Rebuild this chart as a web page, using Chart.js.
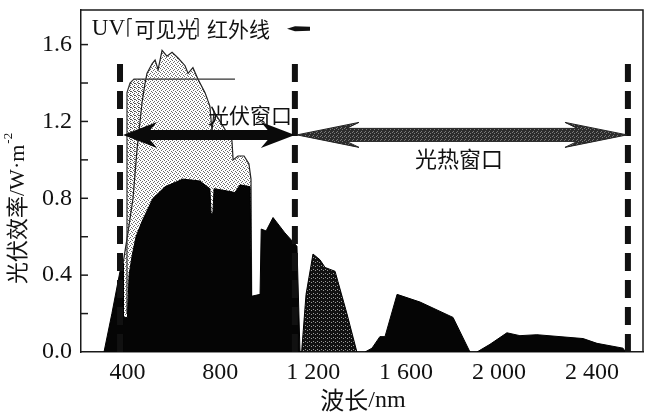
<!DOCTYPE html>
<html><head><meta charset="utf-8">
<script src="https://cdn.jsdelivr.net/npm/chart.js@4.4.1/dist/chart.umd.min.js"></script>
<style>html,body{margin:0;padding:0;background:#fff;overflow:hidden}</style>
</head><body>
<canvas id="c" width="652" height="416"></canvas>
<script>
// ---------- data (wavelength nm, value W·m^-2) ----------
const spectrumNm  = [308,346,381,402,424,441,463,476,484,506,519,532,549,570,592,618,648,661,682,704,734,755,764,773,799,824,850,855,876,902,923,932,936];
const spectrumVal = [0,0.2,0.46,0.62,0.80,1.05,1.30,1.40,1.45,1.50,1.52,1.47,1.57,1.54,1.56,1.53,1.49,1.45,1.48,1.42,1.35,1.28,1.15,1.25,1.20,1.15,1.10,1.0,1.02,1.02,0.98,0.90,0];
const blockNm  = [398,398,411,428,704,704];
const blockVal = [0,1.35,1.40,1.42,1.42,0];
const refLineNm  = [398,398,411,428,863];
const refLineVal = [0.2,1.35,1.40,1.42,1.42];
const pvNm  = [299,333,368,381,383,400,404,407,420,437,463,510,562,639,712,755,760,768,773,820,863,885,928,934,971,976,997,1027,1078,1130,1143];
const pvVal = [0,0.2,0.42,0.46,0.18,0.18,0.30,0.40,0.50,0.60,0.68,0.80,0.86,0.90,0.89,0.85,0.72,0.72,0.85,0.84,0.83,0.87,0.86,0.29,0.30,0.64,0.63,0.70,0.62,0.55,0];
const lobe2Nm  = [1150,1169,1199,1229,1251,1294,1345,1388];
const lobe2Val = [0,0.30,0.51,0.48,0.44,0.42,0.20,0];
const lobe3Nm  = [1423,1453,1487,1509,1561,1660,1802,1875];
const lobe3Val = [0,0.02,0.08,0.08,0.30,0.26,0.18,0];
const lobe4Nm  = [1905,1961,2034,2090,2163,2362,2422,2534,2545];
const lobe4Val = [0,0.04,0.10,0.085,0.09,0.07,0.045,0.02,0];
const windowEdgesNm = [368,1121,2555];
const windowTop = 1.53;
const pvWindow = [381,1121];
const thermalWindow = [1130,2551];
const arrowLevel = 1.13;
const xTickValues = [400,800,1200,1600,2000,2400];
const xTickLabels = ["400","800","1 200","1 600","2 000","2 400"];
const yTickValues = [0,0.4,0.8,1.2,1.6];
const yTickLabels = ["0.0","0.4","0.8","1.2","1.6"];
const yMinorTicks = [0.2,0.4,0.6,0.8,1.0,1.2,1.4,1.6];
const bandLabels = ["UV","可见光","红外线"];
const bandLabelNm = [318,566,878];
const bandEdgesNm = [402,704];
const bandLevel = 1.683;
const pvLabel = {text:"光伏窗口", nm:928, v:1.236};
const thermalLabel = {text:"光热窗口", nm:1828, v:1.008};

// ---------- helpers ----------
const pts = (xs,ys)=>xs.map((x,i)=>({x, y:ys[i]}));
function pattern(bg, dot, dots, size){
  const c=document.createElement('canvas'); c.width=size; c.height=size;
  const g=c.getContext('2d'); g.fillStyle=bg; g.fillRect(0,0,size,size);
  g.fillStyle=dot; dots.forEach(d=>g.fillRect(d[0],d[1],1,1));
  return g.createPattern(c,'repeat');
}
const lightStipple = pattern('#ffffff','#6a6a6a',[[0,0],[2,1],[1,2],[3,3]],4);
const blockStipple = pattern('#ffffff','#555555',[[0,0],[2,1],[1,2],[3,3],[2,3]],4);
const darkStipple  = pattern('#111111','#9a9a9a',[[1,1],[3,2]],4);
const arrowStipple = pattern('#2c2c2c','#7a7a7a',[[0,0],[2,1],[1,3]],4);
const SERIF="'Liberation Serif', 'DejaVu Serif', serif";
const CJK="'Noto Sans CJK SC', sans-serif";

const dashed = [];
windowEdgesNm.forEach(n=>{ dashed.push({x:n,y:0},{x:n,y:windowTop},{x:n,y:NaN}); });

const lineBase = {pointRadius:0, tension:0, borderJoinStyle:'miter'};

const deco = {
  id:'deco',
  afterDatasetsDraw(chart){
    const {ctx, chartArea:a, scales:{x,y}} = chart;
    ctx.save();
    // frame top and right
    ctx.strokeStyle='#1a1a1a'; ctx.lineWidth=1.5;
    ctx.beginPath(); ctx.moveTo(a.left,a.top); ctx.lineTo(a.right,a.top); ctx.lineTo(a.right,a.bottom); ctx.stroke();
    // inward y ticks
    ctx.lineWidth=1.5;
    yMinorTicks.forEach(v=>{const py=y.getPixelForValue(v); ctx.beginPath(); ctx.moveTo(a.left,py); ctx.lineTo(a.left+7,py); ctx.stroke();});
    // arrows
    function dbl(x1,x2,yc,shaft,hl,hh,fill){
      ctx.beginPath();
      ctx.moveTo(x1,yc); ctx.lineTo(x1+hl,yc-hh/2); ctx.lineTo(x1+hl*0.8,yc-shaft/2);
      ctx.lineTo(x2-hl*0.8,yc-shaft/2); ctx.lineTo(x2-hl,yc-hh/2); ctx.lineTo(x2,yc);
      ctx.lineTo(x2-hl,yc+hh/2); ctx.lineTo(x2-hl*0.8,yc+shaft/2);
      ctx.lineTo(x1+hl*0.8,yc+shaft/2); ctx.lineTo(x1+hl,yc+hh/2); ctx.closePath();
      ctx.fillStyle=fill; ctx.fill();
    }
    const ay=y.getPixelForValue(arrowLevel);
    dbl(x.getPixelForValue(thermalWindow[0]), x.getPixelForValue(thermalWindow[1]), ay, 13, 62, 25, arrowStipple);
    ctx.strokeStyle='#222'; ctx.lineWidth=1; ctx.stroke();
    dbl(x.getPixelForValue(pvWindow[0]), x.getPixelForValue(pvWindow[1]), ay, 10, 34, 26, '#0a0a0a');
    // window labels
    ctx.fillStyle='#111'; ctx.textAlign='center'; ctx.textBaseline='middle';
    ctx.font="21px "+CJK;
    ctx.fillText(pvLabel.text, x.getPixelForValue(pvLabel.nm), y.getPixelForValue(pvLabel.v));
    ctx.font="22px "+CJK;
    ctx.fillText(thermalLabel.text, x.getPixelForValue(thermalLabel.nm), y.getPixelForValue(thermalLabel.v));
    // band labels
    const by=y.getPixelForValue(bandLevel);
    bandLabels.forEach((t,i)=>{
      ctx.font = (i===0? "23px "+SERIF : "21px "+CJK);
      ctx.fillText(t, x.getPixelForValue(bandLabelNm[i]), by);
    });
    ctx.strokeStyle='#222'; ctx.lineWidth=1.3;
    bandEdgesNm.forEach((n,i)=>{
      const px=x.getPixelForValue(n);
      ctx.beginPath(); ctx.moveTo(px, by-10); ctx.lineTo(px, by+8); ctx.stroke();
      ctx.beginPath(); ctx.moveTo(px, by-10); ctx.lineTo(px+(i===0?4:-4), by-10); ctx.stroke();
    });
    // small marker after IR label
    const mx1=x.getPixelForValue(1087), mx2=x.getPixelForValue(1186);
    ctx.beginPath(); ctx.moveTo(mx1,by); ctx.lineTo(mx1+8,by-2.5); ctx.lineTo(mx2,by-2); ctx.lineTo(mx2,by+2); ctx.lineTo(mx1+8,by+2.5); ctx.closePath();
    ctx.fillStyle='#111'; ctx.fill();
    // axis titles
    ctx.textBaseline='middle';
    ctx.font="24px "+CJK; const w1=ctx.measureText("波长").width;
    ctx.font="24px "+SERIF; const w2=ctx.measureText("/nm").width;
    const cx=(a.left+a.right)/2+1, tyy=400;
    ctx.textAlign='left';
    ctx.font="24px "+CJK; ctx.fillText("波长", cx-(w1+w2)/2, tyy);
    ctx.font="24px "+SERIF; ctx.fillText("/nm", cx-(w1+w2)/2+w1, tyy+1);
    ctx.save();
    ctx.translate(17, 284); ctx.rotate(-Math.PI/2);
    ctx.font="22px "+CJK; ctx.fillText("光伏效率", 0, 0);
    let off=ctx.measureText("光伏效率").width;
    ctx.font="22px "+SERIF; ctx.fillText("/W·m", off, 1);
    off+=ctx.measureText("/W·m").width;
    ctx.font="13px "+SERIF; ctx.fillText("-2", off+1, -8);
    ctx.restore();
    ctx.restore();
  }
};

new Chart(document.getElementById('c'), {
  type:'line',
  data:{datasets:[
    {label:'block', data:pts(blockNm,blockVal), ...lineBase, borderWidth:0, borderColor:'rgba(0,0,0,0)', backgroundColor:blockStipple, fill:'origin', order:11},
    {label:'spectrum', data:pts(spectrumNm,spectrumVal), ...lineBase, borderColor:'#222', borderWidth:1.2, backgroundColor:lightStipple, fill:'origin', order:10},
    {label:'ref', data:pts(refLineNm,refLineVal), ...lineBase, borderColor:'#333', borderWidth:1.2, fill:false, order:8},
    {label:'pv', data:pts(pvNm,pvVal), ...lineBase, borderColor:'#000', borderWidth:1, backgroundColor:'#050505', fill:'origin', order:5},
    {label:'lobe2', data:pts(lobe2Nm,lobe2Val), ...lineBase, borderColor:'#000', borderWidth:1, backgroundColor:darkStipple, fill:'origin', order:5},
    {label:'lobe3', data:pts(lobe3Nm,lobe3Val), ...lineBase, borderColor:'#000', borderWidth:1, backgroundColor:'#050505', fill:'origin', order:5},
    {label:'lobe4', data:pts(lobe4Nm,lobe4Val), ...lineBase, borderColor:'#000', borderWidth:1, backgroundColor:'#050505', fill:'origin', order:5},
    {label:'windows', data:dashed, ...lineBase, borderColor:'#111', borderWidth:6, borderDash:[18,9], borderCapStyle:'butt', spanGaps:false, fill:false, order:1}
  ]},
  options:{
    responsive:false, animation:false, devicePixelRatio:1,
    layout:{padding:{left:0, top:10, right:9, bottom:0}},
    plugins:{legend:{display:false}, tooltip:{enabled:false}},
    scales:{
      x:{type:'linear', min:200, max:2620,
        grid:{display:false, drawTicks:false},
        border:{display:true, color:'#1a1a1a', width:1.5},
        afterBuildTicks:s=>{s.ticks=xTickValues.map(v=>({value:v}));},
        afterFit:s=>{s.height=64; s.paddingLeft=0; s.paddingRight=0;},
        ticks:{autoSkip:false, maxRotation:0, padding:6, color:'#111', font:{family:SERIF, size:24},
          callback:(v)=>{const i=xTickValues.indexOf(v); return i>=0?xTickLabels[i]:'';}}
      },
      y:{type:'linear', min:0, max:1.78,
        grid:{display:false, drawTicks:false},
        border:{display:true, color:'#1a1a1a', width:1.5},
        afterBuildTicks:s=>{s.ticks=yTickValues.map(v=>({value:v}));},
        afterFit:s=>{s.width=81; s.paddingTop=0; s.paddingBottom=0;},
        ticks:{autoSkip:false, padding:9, color:'#111', font:{family:SERIF, size:24},
          callback:(v)=>{const i=yTickValues.indexOf(v); return i>=0?yTickLabels[i]:'';}}
      }
    }
  },
  plugins:[deco]
});
</script>
</body></html>
